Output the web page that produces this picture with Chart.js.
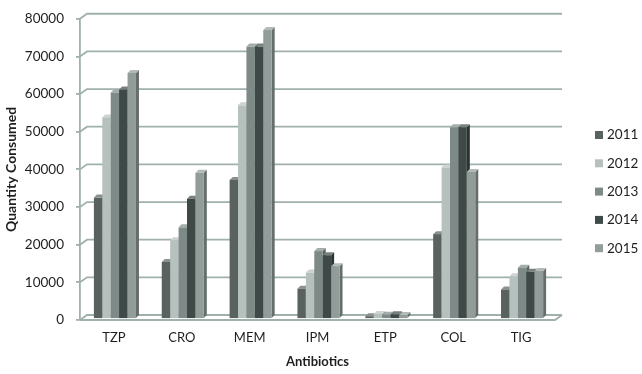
<!DOCTYPE html>
<html>
<head>
<meta charset="utf-8">
<script src="https://cdn.jsdelivr.net/npm/chart.js@4/dist/chart.umd.min.js"></script>
<style>
  html, body { margin: 0; padding: 0; background: #fff; }
  #wrap { width: 642px; height: 374px; position: relative; }
</style>
</head>
<body>
<div id="wrap"><canvas id="chart"></canvas></div>
<script>
// Data
const antibiotics = ['TZP', 'CRO', 'MEM', 'IPM', 'ETP', 'COL', 'TIG'];
const years = ['2011', '2012', '2013', '2014', '2015'];
const q2011 = [32500, 15400, 37200, 8300, 1000, 22800, 8100];
const q2012 = [53800, 21200, 57000, 12600, 1600, 40500, 11600];
const q2013 = [60400, 24600, 72600, 18300, 1400, 51200, 13900];
const q2014 = [61200, 32200, 72600, 17200, 1500, 51200, 12800];
const q2015 = [65600, 39100, 77000, 14300, 1300, 39300, 13000];
const yTicks = [0, 10000, 20000, 30000, 40000, 50000, 60000, 70000, 80000];

const yearColors = ['#59625f', '#b6c0bd', '#7e8a87', '#3e4948', '#929d9a'];
const gridColor = '#a0b0ad';
const textColor = '#1e1e1e';
const FONT = 'Lato, "Open Sans", sans-serif';

// depth of the back wall and of each bar
const WALL_DX = 7, WALL_DY = -5;
const BAR_DX = 3, BAR_DY = -3;

function shade(hex, amt) {
    const n = parseInt(hex.slice(1), 16);
    let r = (n >> 16) & 255, g = (n >> 8) & 255, b = n & 255;
    const f = c => amt < 0 ? Math.round(c * (1 + amt)) : Math.round(c + (255 - c) * amt);
    return `rgb(${f(r)}, ${f(g)}, ${f(b)})`;
}

// back wall, side-wall lines and floor
const wallPlugin = {
    id: 'wall3d',
    beforeDatasetsDraw(chart) {
        const ctx = chart.ctx;
        const y = chart.scales.y;
        const area = chart.chartArea;
        ctx.save();
        ctx.strokeStyle = gridColor;
        ctx.lineWidth = 1.8;
        yTicks.forEach(v => {
            const py = y.getPixelForValue(v);
            ctx.beginPath();
            ctx.moveTo(area.left, py);
            ctx.lineTo(area.left + WALL_DX, py + WALL_DY);
            ctx.lineTo(area.right + WALL_DX, py + WALL_DY);
            ctx.stroke();
        });
        // floor front edge and right edge
        ctx.beginPath();
        ctx.moveTo(area.left, area.bottom);
        ctx.lineTo(area.right, area.bottom);
        ctx.lineTo(area.right + WALL_DX, area.bottom + WALL_DY);
        ctx.stroke();
        ctx.restore();
    }
};

// draw the columns as 3D boxes
const bar3dPlugin = {
    id: 'bar3d',
    beforeDatasetsDraw(chart) {
        const ctx = chart.ctx;
        ctx.save();
        for (let i = 0; i < antibiotics.length; i++) {
            chart.data.datasets.forEach((ds, d) => {
                const meta = chart.getDatasetMeta(d);
                if (meta.hidden) return;
                const el = meta.data[i];
                const w = el.width;
                const x0 = el.x - w / 2 + 1;
                const top = el.y, base = el.base - 1;
                const col = ds.backgroundColor;
                // side face
                ctx.fillStyle = shade(col, -0.3);
                ctx.beginPath();
                ctx.moveTo(x0 + w, top);
                ctx.lineTo(x0 + w + BAR_DX, top + BAR_DY);
                ctx.lineTo(x0 + w + BAR_DX, base + BAR_DY);
                ctx.lineTo(x0 + w, base);
                ctx.closePath();
                ctx.fill();
                // top face
                ctx.fillStyle = shade(col, 0.3);
                ctx.beginPath();
                ctx.moveTo(x0, top);
                ctx.lineTo(x0 + BAR_DX, top + BAR_DY);
                ctx.lineTo(x0 + w + BAR_DX, top + BAR_DY);
                ctx.lineTo(x0 + w, top);
                ctx.closePath();
                ctx.fill();
                // front face
                ctx.fillStyle = col;
                ctx.fillRect(x0, top, w, base - top);
            });
        }
        ctx.restore();
        return false;
    }
};

// legend on the right
const legendPlugin = {
    id: 'sideLegend',
    afterDraw(chart) {
        const ctx = chart.ctx;
        ctx.save();
        ctx.font = `13.5px ${FONT}`;
        ctx.textBaseline = 'middle';
        chart.data.datasets.forEach((ds, d) => {
            const cy = 135 + d * 28.3;
            ctx.fillStyle = ds.backgroundColor;
            ctx.fillRect(595, cy - 4, 8, 8);
            ctx.fillStyle = textColor;
            ctx.fillText(ds.label, 607, cy);
        });
        ctx.restore();
    }
};

const seriesValues = [q2011, q2012, q2013, q2014, q2015];

new Chart(document.getElementById('chart'), {
    type: 'bar',
    data: {
        labels: antibiotics,
        datasets: years.map((yr, k) => ({
            label: yr,
            data: seriesValues[k],
            backgroundColor: yearColors[k]
        }))
    },
    options: {
        responsive: true,
        maintainAspectRatio: false,
        animation: false,
        layout: { padding: { top: 16, right: 87, left: 0, bottom: 0 } },
        datasets: { bar: { categoryPercentage: 0.62, barPercentage: 1.0 } },
        plugins: {
            legend: { display: false },
            tooltip: { enabled: false }
        },
        scales: {
            x: {
                grid: { display: false },
                border: { display: false },
                ticks: { color: textColor, font: { family: FONT, size: 13 }, padding: 2 },
                title: {
                    display: true, text: 'Antibiotics', color: textColor,
                    font: { family: FONT, size: 13, weight: 'bold' },
                    padding: { top: 0, bottom: 4 }
                },
                afterFit(scale) { scale.height = 54; }
            },
            y: {
                min: 0, max: 80000,
                ticks: {
                    stepSize: 10000, color: textColor, padding: 12,
                    font: { family: FONT, size: 13.5, lineHeight: 1 },
                    callback: v => String(v)
                },
                grid: { drawOnChartArea: false, drawTicks: true, tickLength: 4, color: gridColor, lineWidth: 1.8 },
                border: { display: true, color: gridColor, width: 1.8 },
                title: {
                    display: true, text: 'Quantity Consumed', color: textColor,
                    font: { family: FONT, size: 14, weight: 'bold' },
                    padding: { top: 3, bottom: 0 }
                },
                afterFit(scale) { scale.width = 80; }
            }
        }
    },
    plugins: [wallPlugin, bar3dPlugin, legendPlugin]
});
</script>
</body>
</html>
